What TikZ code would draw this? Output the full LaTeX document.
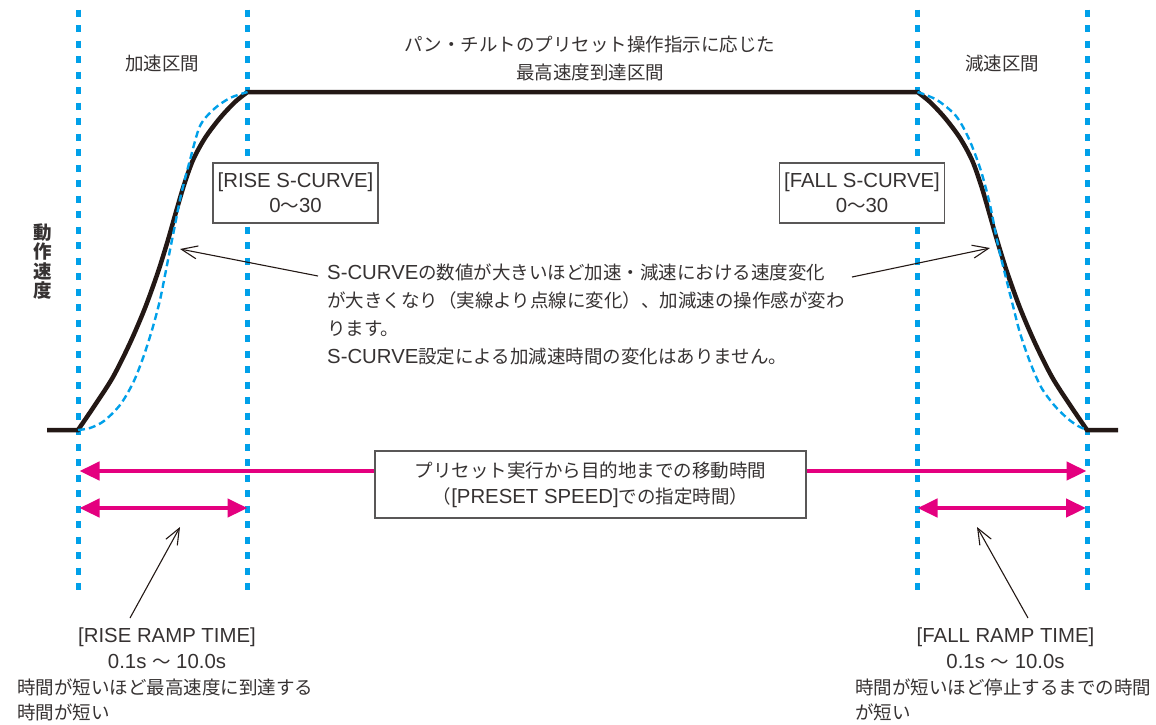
\documentclass[tikz,border=0pt]{standalone}
\usepackage{fontspec}
\setmainfont{Noto Sans CJK JP}
\newfontfamily\lat{Liberation Sans}[Scale=1.1]
\usetikzlibrary{arrows.meta}
\definecolor{cyanc}{HTML}{00A0E9}
\definecolor{magc}{HTML}{E4007F}
\definecolor{blk}{HTML}{231815}
\definecolor{txtc}{HTML}{363232}
\definecolor{boxc}{HTML}{595757}
\begin{document}
\begin{tikzpicture}[x=1pt,y=-1pt,
  guide/.style={cyanc, line width=5pt, dash pattern=on 7.2pt off 8.3pt},
  speed/.style={blk, line width=4.5pt},
  scurve/.style={cyanc, line width=2.4pt, dash pattern=on 7pt off 4pt},
  jtext/.style={text=txtc, inner sep=0pt, font={\fontsize{18.5}{28}\selectfont}},
  valbox/.style={draw=boxc, line width=1.2pt, fill=white, text=txtc, font={\fontsize{18.5}{25}\selectfont}, minimum width=165pt, minimum height=60pt, align=center, inner sep=0pt},
  timearrow/.style={magc, line width=4.5pt, -{Triangle[length=20pt,width=18pt]}},
  timespan/.style={magc, line width=4.5pt, {Triangle[length=20pt,width=18pt]}-{Triangle[length=20pt,width=18pt]}},
  pointer/.style={blk, line width=1.1pt, -{Straight Barb[length=16pt,width=13pt]}}
]
\useasboundingbox (0,0) rectangle (1156,724);

% guide lines
\foreach \n/\gx in {g1/78, g2/247.5, g3/917.5, g4/1087}{
  \coordinate (\n t) at (\gx,9.5);
  \coordinate (\n b) at (\gx,593);
  \draw[guide] (\n t) -- (\n b);
}

% speed curve (solid)
\draw[speed] (47,430) -- plot[smooth] coordinates {(78,430) (95,405) (113,377) (130,343) (145,308) (158,272) (168,240) (176,212) (184,185) (193,160) (205,138) (220,118) (235,102) (247.5,92)}
  -- plot[smooth] coordinates {(917.5,92) (930,102) (945,118) (960,138) (972,160) (981,185) (989,212) (997,240) (1007,272) (1020,308) (1035,343) (1052,377) (1070,405) (1087,430)}
  -- (1118,430);

% S-curve (dashed)
\draw[scurve] plot[smooth] coordinates {(78,430) (90,428) (104,421) (120,405) (133,383) (143,358) (152,330) (160,300) (167,265) (174,230) (181,195) (190,160) (200,126) (214,109) (230,98) (247.5,92)};
\draw[scurve] plot[smooth] coordinates {(917.5,92) (937,100) (956,116) (969,139) (981,171) (990,205) (998,245) (1006,278) (1013,306) (1020,333) (1030,362) (1041,387) (1054,405) (1067,418) (1078,426) (1087,430)};

% value boxes
\node[valbox] (rsc) at (295.5,193) {{\lat [RISE S-CURVE]}\\{\lat 0}～{\lat 30}};
\node[valbox] (fsc) at (862,193) {{\lat [FALL S-CURVE]}\\{\lat 0}～{\lat 30}};
\node[valbox, minimum width=431pt, minimum height=67pt, font={\fontsize{18.5}{26}\selectfont}] (cbox) at (590.5,484.5)
  {プリセット実行から目的地までの移動時間\\（{\lat [PRESET SPEED]}での指定時間）};

% time arrows
\coordinate (LA) at (79.5,471);
\coordinate (RA) at (1086.5,471);
\draw[timearrow] (cbox.west |- LA) -- (LA);
\draw[timearrow] (cbox.east |- RA) -- (RA);
\coordinate (s1a) at (79.5,508);
\coordinate (s1b) at (247.5,508);
\coordinate (s2a) at (917.5,508);
\coordinate (s2b) at (1086,508);
\draw[timespan] (s1a) -- (s1b);
\draw[timespan] (s2a) -- (s2b);

% texts
\node[jtext] (acc) at (162,63) {加速区間};
\node[jtext] (dec) at (1002,63) {減速区間};
\node[jtext, align=center] (top) at (590,58) {パン・チルトのプリセット操作指示に応じた\\最高速度到達区間};
\node[jtext, align=center, font={\fontsize{18.5}{19.2}\selectfont\bfseries}] (yax) at (43,261.5) {動\\作\\速\\度};
\node[jtext, align=left, anchor=west] (note) at (327,314)
  {{\lat S-CURVE}の数値が大きいほど加速・減速における速度変化\\が大きくなり（実線より点線に変化）、加減速の操作感が変わ\\ります。\\{\lat S-CURVE}設定による加減速時間の変化はありません。};
\node[jtext, align=center, font={\fontsize{18.5}{26}\selectfont}] (rrt) at (167,648) {{\lat [RISE RAMP TIME]}\\{\lat 0.1s\ }～{\lat\ 10.0s}};
\node[jtext, align=left, anchor=west, font={\fontsize{18.5}{25}\selectfont}] (rrd) at (17,699.5) {時間が短いほど最高速度に到達する\\時間が短い};
\node[jtext, align=center, font={\fontsize{18.5}{26}\selectfont}] (frt) at (1005.5,648) {{\lat [FALL RAMP TIME]}\\{\lat 0.1s\ }～{\lat\ 10.0s}};
\node[jtext, align=left, anchor=west, font={\fontsize{18.5}{25}\selectfont}] (frd) at (855,699.5) {時間が短いほど停止するまでの時間\\が短い};

% pointers
\coordinate (p1s) at (318,276);
\coordinate (p1e) at (180,249);
\coordinate (p2s) at (852,277);
\coordinate (p2e) at (990,248);
\coordinate (p3s) at (130,618);
\coordinate (p3e) at (180,527);
\coordinate (p4s) at (1028,618);
\coordinate (p4e) at (977,527);
\draw[pointer] (p1s) -- (p1e);
\draw[pointer] (p2s) -- (p2e);
\draw[pointer] (p3s) -- (p3e);
\draw[pointer] (p4s) -- (p4e);
\end{tikzpicture}
\end{document}
